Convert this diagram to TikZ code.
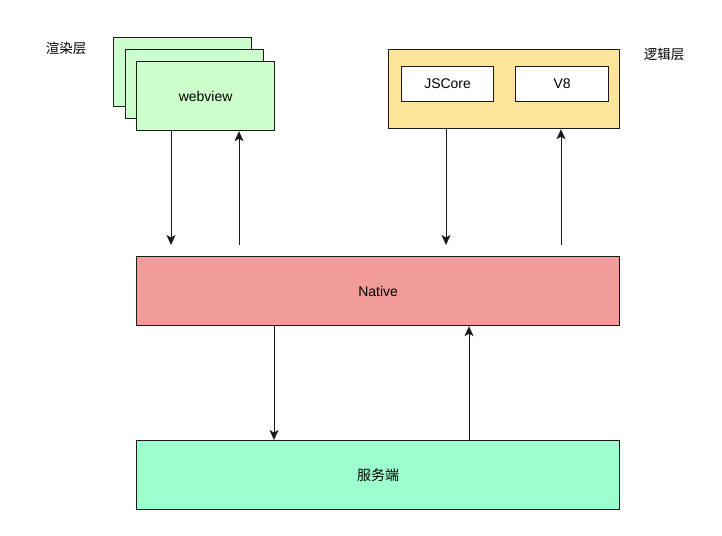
\documentclass[tikz,border=0pt]{standalone}
\usepackage{fontspec}
\setmainfont{Liberation Sans}
\newfontfamily\cjk{Noto Sans CJK SC}
\usetikzlibrary{arrows.meta}
\definecolor{webgreen}{HTML}{CCFFCC}
\definecolor{logicyellow}{HTML}{FFE599}
\definecolor{nativered}{HTML}{F19C99}
\definecolor{servergreen}{HTML}{9EFFCE}
\definecolor{linegray}{HTML}{1A1A1A}
\tikzset{
  box/.style={draw=linegray, line width=1.2pt, rectangle, anchor=north west, inner sep=0pt, font=\fontsize{14}{16}\selectfont},
  conn/.style={draw=linegray, line width=1pt, -{Stealth[length=10pt,width=9pt,inset=2.5pt]}},
  lbl/.style={font=\cjk\fontsize{13.5}{15}\selectfont, inner sep=0pt},
}
\begin{document}
\begin{tikzpicture}[x=1pt,y=-1pt]
\useasboundingbox (0,0) rectangle (722,535);
% webview stack
\node[box, fill=webgreen, minimum width=138pt, minimum height=69pt] (web3) at (113,37) {};
\node[box, fill=webgreen, minimum width=138pt, minimum height=69pt] (web2) at (125,49) {};
\node[box, fill=webgreen, minimum width=138pt, minimum height=69pt] (web) at (136,61) {webview};
\node[lbl] (lrender) at (66,48) {渲染层};
% logic layer
\node[box, fill=logicyellow, minimum width=231pt, minimum height=79pt] (logic) at (388,49) {};
\node[box, fill=white, minimum width=92pt, minimum height=35pt] (jsc) at (401,66) {JSCore};
\node[box, fill=white, minimum width=93pt, minimum height=35pt] (v8) at (515,66) {V8};
\node[lbl] (llogic) at (664,54) {逻辑层};
% native
\node[box, fill=nativered, minimum width=483pt, minimum height=69pt] (nat) at (136,256) {Native};
% server
\node[box, fill=servergreen, minimum width=483pt, minimum height=69pt] (srv) at (136,440) {\cjk 服务端};
% free ends
\coordinate (e1) at (171,245);
\coordinate (e2) at (239,245);
\coordinate (e3) at (446,245);
\coordinate (e4) at (561,245);
\coordinate (e5) at (274,0);
\coordinate (e6) at (469,0);
% connectors
\draw[conn] (web.south -| e1) -- (e1);
\draw[conn] (e2) -- (web.south -| e2);
\draw[conn] (logic.south -| e3) -- (e3);
\draw[conn] (e4) -- (logic.south -| e4);
\draw[conn] (nat.south -| e5) -- (srv.north -| e5);
\draw[conn] (srv.north -| e6) -- (nat.south -| e6);
\end{tikzpicture}
\end{document}
